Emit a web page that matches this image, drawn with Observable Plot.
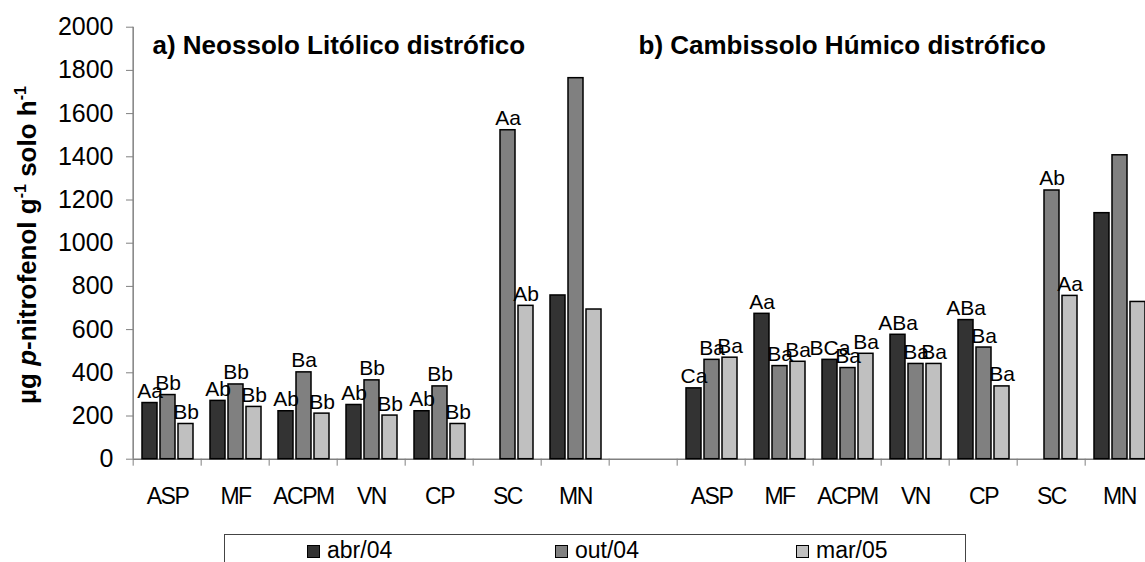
<!DOCTYPE html>
<html>
<head>
<meta charset="utf-8">
<script src="https://cdn.jsdelivr.net/npm/d3@7"></script>
<script src="https://cdn.jsdelivr.net/npm/@observablehq/plot@0.6"></script>
<style>
  html, body { margin: 0; padding: 0; background: #fff; overflow: hidden; }
  #chart { position: relative; width: 1145px; height: 562px; overflow: hidden; background: #fff;
           font-family: "Liberation Sans", Arial, sans-serif; }
  #chart svg { max-width: none !important; display: block; }
  g[aria-label="fx-axis tick label"] text { letter-spacing: -1.5px; }
  g[aria-label="letters"] text { letter-spacing: -0.8px; }
  #legend { position: absolute; left: 224px; top: 534px; width: 742px; height: 60px;
            border: 1.5px solid #444; box-sizing: border-box; }
  #legend .item { position: absolute; top: 5px; font-size: 23px; line-height: 20px; color: #000; white-space: nowrap; }
  #legend .item i { display: inline-block; width: 13px; height: 13px; border: 1px solid #000;
                    box-sizing: border-box; margin-right: 7px; }
</style>
</head>
<body>
<div id="chart"></div>
<script>
// Treatments (x categories) and sampling dates (series)
const treatments = ["ASP", "MF", "ACPM", "VN", "CP", "SC", "MN"];
const dates = ["abr/04", "out/04", "mar/05"];
const dateColors = ["#333333", "#808080", "#c0c0c0"];
const panelTitles = ["a) Neossolo Litólico distrófico", "b) Cambissolo Húmico distrófico"];
const yTicks = [0, 200, 400, 600, 800, 1000, 1200, 1400, 1600, 1800, 2000];

// µg p-nitrofenol g-1 solo h-1, per treatment: [abr/04, out/04, mar/05]
const neossoloValues = [
  [260, 297, 163], [270, 346, 242], [222, 402, 211], [251, 365, 202],
  [222, 337, 163], [null, 1523, 710], [758, 1764, 693]
];
const neossoloLetters = [
  ["Aa", "Bb", "Bb"], ["Ab", "Bb", "Bb"], ["Ab", "Ba", "Bb"], ["Ab", "Bb", "Bb"],
  ["Ab", "Bb", "Bb"], ["", "Aa", "Ab"], ["", "", ""]
];
const cambissoloValues = [
  [328, 460, 470], [673, 431, 451], [460, 422, 488], [576, 441, 441],
  [644, 517, 337], [null, 1244, 756], [1139, 1407, 728]
];
const cambissoloLetters = [
  ["Ca", "Ba", "Ba"], ["Aa", "Ba", "Ba"], ["BCa", "Ba", "Ba"], ["ABa", "Ba", "Ba"],
  ["ABa", "Ba", "Ba"], ["", "Ab", "Aa"], ["", "", ""]
];

// One facet slot per treatment and soil, with an empty slot between the two soils
const slots = [...treatments.map(t => "a|" + t), "gap", ...treatments.map(t => "b|" + t)];
const rows = [];
[["a", neossoloValues, neossoloLetters], ["b", cambissoloValues, cambissoloLetters]].forEach(([soil, vals, lets]) => {
  treatments.forEach((t, i) => dates.forEach((d, j) => {
    if (vals[i][j] != null) rows.push({slot: soil + "|" + t, date: d, value: vals[i][j], letter: lets[i][j]});
  }));
});
const labelled = rows.filter(r => r.letter);

const font = "'Liberation Sans', Arial, sans-serif";
const W = 1158, H = 525, mL = 128, mR = 0;
const halfSlot = (W - mL - mR) / slots.length / 2;

const plot = Plot.plot({
  width: W,
  height: H,
  marginLeft: mL,
  marginRight: mR,
  marginTop: 26.7,
  marginBottom: 66.3,
  style: {fontFamily: font, background: "white", maxWidth: "none", overflow: "visible"},
  fx: {domain: slots, paddingInner: 0, paddingOuter: 0},
  x: {domain: dates, paddingInner: 0.18, paddingOuter: 0.4, axis: null},
  y: {domain: [0, 2000]},
  color: {domain: dates, range: dateColors},
  marks: [
    // horizontal axis line, drawn in every slot so it runs through the gap
    Plot.ruleY(slots, {fx: d => d, y: () => 0, stroke: "#808080", strokeWidth: 1.5}),
    // vertical axis line at the left edge of the first slot
    Plot.ruleX([slots[0]], {fx: d => d, x: null, dx: -halfSlot, y1: () => 0, y2: () => 2000,
                            stroke: "#808080", strokeWidth: 1.5}),
    Plot.axisY({ticks: yTicks, tickFormat: d => String(d), tickSize: 7, tickPadding: 13,
                fontSize: 25, stroke: "#808080", fill: "black", label: null}),
    // category names under each slot
    Plot.axisFx({anchor: "bottom", tickSize: 0, tickPadding: 28, fontSize: 23, label: null,
                 tickFormat: k => k === "gap" ? "" : k.split("|")[1], fill: "black"}),
    // tick marks on the slot boundaries
    Plot.axisFx({anchor: "bottom", tickSize: 7, dx: -halfSlot, fill: "none", label: null,
                 stroke: "#808080", tickFormat: () => ""}),
    Plot.barY(rows, {fx: "slot", x: "date", y: "value", fill: "date", stroke: "black", strokeWidth: 1.5}),
    Plot.text(labelled, {fx: "slot", x: "date", y: "value", text: "letter", lineAnchor: "bottom",
                         dy: -5, fontSize: 21, fill: "black", ariaLabel: "letters"}),
    Plot.text([panelTitles[0]], {fx: () => "a|ASP", text: d => d, frameAnchor: "top-left", textAnchor: "start",
                                 lineAnchor: "top", dx: 19, dy: 8, fontSize: 26, fontWeight: "bold", fill: "black"}),
    Plot.text([panelTitles[1]], {fx: () => "b|ASP", text: d => d, frameAnchor: "top-left", textAnchor: "start",
                                 lineAnchor: "top", dx: -39, dy: 8, fontSize: 26, fontWeight: "bold", fill: "black"})
  ]
});

// Rotated y-axis title with italic p and superscripts
const yt = d3.select(plot).append("text")
  .attr("transform", "translate(36,245) rotate(-90)")
  .attr("text-anchor", "middle")
  .attr("fill", "black")
  .style("font", `bold 26px ${font}`);
yt.append("tspan").text("µg ");
yt.append("tspan").attr("font-style", "italic").text("p");
yt.append("tspan").text("-nitrofenol g");
yt.append("tspan").attr("font-size", "16px").attr("dy", "-10").text("-1");
yt.append("tspan").attr("dy", "10").text(" solo h");
yt.append("tspan").attr("font-size", "16px").attr("dy", "-10").text("-1");

const chart = document.getElementById("chart");
chart.appendChild(plot);

// Legend box below the plot
const legend = document.createElement("div");
legend.id = "legend";
const itemLefts = [82, 330, 571];
dates.forEach((d, i) => {
  const item = document.createElement("span");
  item.className = "item";
  item.style.left = itemLefts[i] + "px";
  const sw = document.createElement("i");
  sw.style.background = dateColors[i];
  item.appendChild(sw);
  item.appendChild(document.createTextNode(d));
  legend.appendChild(item);
});
chart.appendChild(legend);
</script>
</body>
</html>
